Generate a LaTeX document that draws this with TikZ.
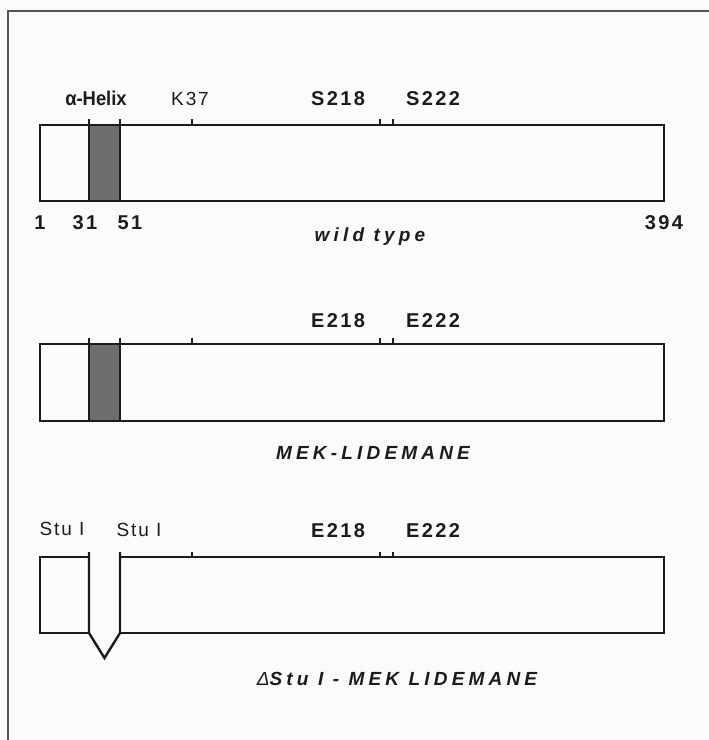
\documentclass[tikz,border=0pt]{standalone}
\usepackage{fontspec}
\setmainfont{Liberation Sans}
\usetikzlibrary{calc}
\definecolor{bgcol}{RGB}{250,251,253}
\definecolor{helixgray}{RGB}{110,110,110}
\definecolor{framegray}{RGB}{85,85,85}
\definecolor{ink}{RGB}{28,28,28}

\begin{document}
\begin{tikzpicture}[x=1pt, y=-1pt, ink,
  bar/.style={line width=2.4pt, line join=miter},
  tick/.style={line width=2pt},
  lbl/.style={anchor=base, inner sep=0pt},
  site/.style={lbl, font=\fontsize{20}{24}\selectfont\bfseries\addfontfeature{LetterSpace=12}},
  thin/.style={lbl, font=\fontsize{19}{24}\selectfont\addfontfeature{LetterSpace=10}},
  title/.style={lbl, font=\fontsize{19}{24}\selectfont\bfseries\itshape\addfontfeature{LetterSpace=22}}]
  \fill[bgcol] (0,0) rectangle (709,740);
  \useasboundingbox (0,0) rectangle (709,740);
  % Rahmen (rechts und unten abgeschnitten)
  \draw[framegray, line width=1.5pt] (8,740) -- (8,11) -- (709,11);

  % wild type
  \coordinate (A1) at (40,125);
  \coordinate (B1) at (664,201);
  \fill[helixgray] (89,125) rectangle (120,201);
  \draw[bar] (A1) rectangle (B1);
  \draw[bar] (89,125) -- (89,201) (120,125) -- (120,201);
  \draw[tick] (89,119) -- (89,125) (120,119) -- (120,125) (192,119) -- (192,125)
    (380,119) -- (380,125) (393,119) -- (393,125);
  \node[lbl, font=\fontsize{20}{24}\selectfont\bfseries, xscale=0.92] (helix) at (96,105) {α-Helix};
  \node[thin] (k37) at (190,105) {K37};
  \node[site] (s218) at (338,105) {S218};
  \node[site] (s222) at (433,105) {S222};
  \node[site] (n1) at (40,229) {1};
  \node[site] (n31) at (85,229) {31};
  \node[site] (n51) at (130,229) {51};
  \node[site] (n394) at (664,229) {394};
  \node[title] (wt) at (370,241) {wild type};

  % MEK-LIDEMANE
  \coordinate (A2) at (40,344);
  \coordinate (B2) at (664,421);
  \fill[helixgray] (89,344) rectangle (120,421);
  \draw[bar] (A2) rectangle (B2);
  \draw[bar] (89,344) -- (89,421) (120,344) -- (120,421);
  \draw[tick] (89,338) -- (89,344) (120,338) -- (120,344) (192,338) -- (192,344)
    (380,338) -- (380,344) (393,338) -- (393,344);
  \node[site] (e218a) at (338,327) {E218};
  \node[site] (e222a) at (433,327) {E222};
  \node[title] (lide) at (373,459) {MEK-LIDEMANE};

  % Delta Stu I
  \coordinate (A3) at (40,557);
  \coordinate (B3) at (664,633);
  \coordinate (T) at (104.5,658);
  \draw[bar] (89,557) -- (A3) -- (40,633) -- (89,633);
  \draw[bar] (120,557) -- (664,557) -- (B3) -- (120,633);
  \draw[bar] (89,552) -- (89,633) -- (T) -- (120,633) -- (120,552);
  \draw[tick] (192,552) -- (192,557) (380,552) -- (380,557) (393,552) -- (393,557);
  \node[thin] (stuL) at (62,535) {Stu I};
  \node[thin] (stuR) at (139,536) {Stu I};
  \node[site] (e218b) at (338,537) {E218};
  \node[site] (e222b) at (433,537) {E222};
  \node[title] (dstu) at (397,685) {{\fontseries{m}\selectfont Δ}Stu I - MEK LIDEMANE};
\end{tikzpicture}
\end{document}
